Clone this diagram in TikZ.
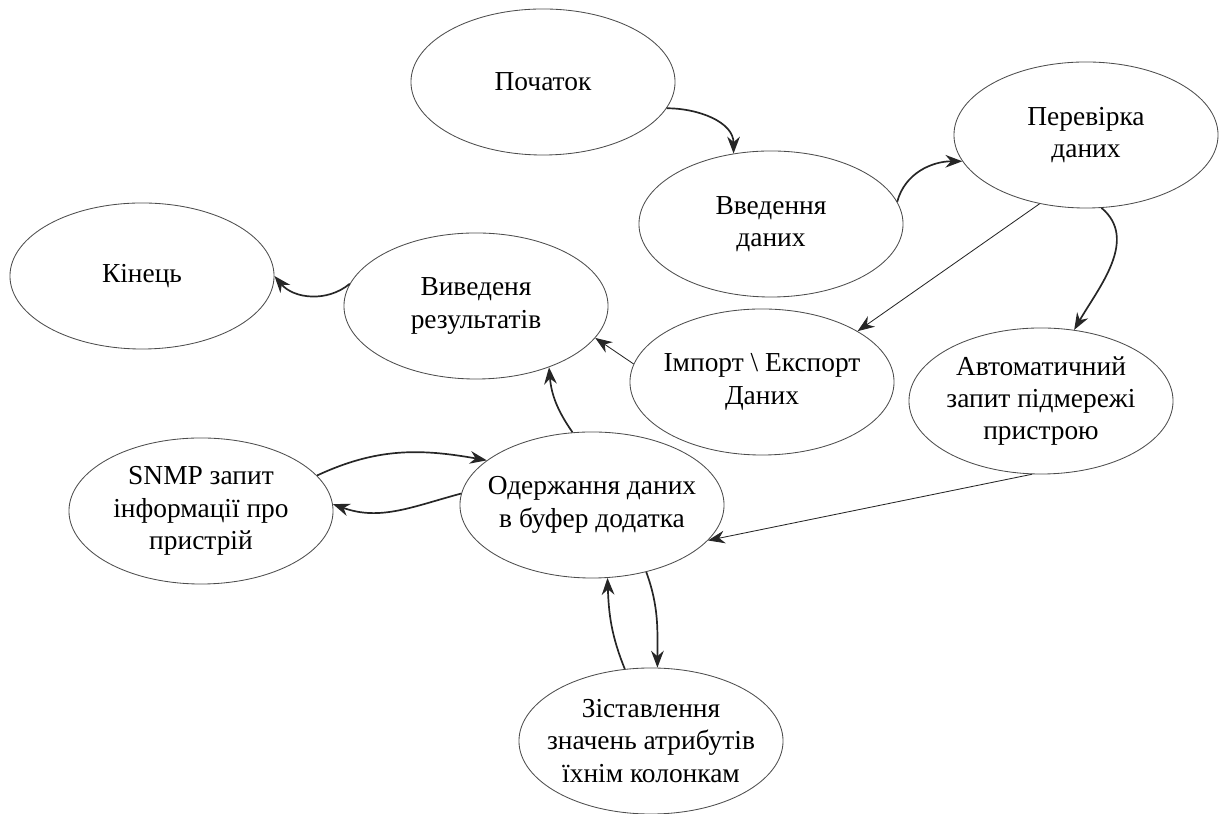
\documentclass[tikz,border=0pt]{standalone}
\usepackage{fontspec}
\setmainfont{Liberation Serif}
\usetikzlibrary{shapes.geometric,arrows.meta}

\tikzstyle{flownode} = [ellipse, draw = black!70, line width = 0.6pt, minimum width = 6.6cm, minimum height = 3.65cm, inner xsep = -0.35cm, inner ysep = 0pt, align = center, font = \fontsize{19.5}{23}\selectfont]
\tikzstyle{flowedge} = [-{Stealth[length = 12pt, width = 9pt]}, line width = 1.2pt, black!85]
\tikzstyle{thinedge} = [-{Stealth[length = 12pt, width = 9pt]}, line width = 0.6pt, black!85]

\begin{document}
\begin{tikzpicture}[x = 0.025cm, y = 0.025cm]
			\useasboundingbox (0,0) rectangle (1224,814);
			\node[flownode] (start) at (543,732) {Початок};
			\node[flownode] (input) at (771,590) {Введення\\даних};
			\node[flownode] (check) at (1086,679) {Перевірка\\даних};
			\node[flownode] (finish) at (142,538) {Кінець};
			\node[flownode] (output) at (476,508) {Виведеня\\результатів};
			\node[flownode] (impexp) at (762,432) {Імпорт \textbackslash{} Експорт\\Даних};
			\node[flownode] (autoreq) at (1041,413) {Автоматичний\\запит підмережі\\пристрою};
			\node[flownode] (snmp) at (201,303) {SNMP запит\\інформації про\\пристрій};
			\node[flownode] (buffer) at (592,309) {Одержання даних\\в буфер додатка};
			\node[flownode] (match) at (651,73) {Зіставлення\\значень атрибутів\\їхнім колонкам};
			\path[flowedge]
			(start.348) edge[out = 0, in = 90] (input.118)
			(input.10) edge[out = 75, in = 180] (check.192)
			(check.282) edge[out = -40, in = 60] (autoreq.65)
			(buffer.105) edge[out = 125, in = -85] (output.320)
			(output.170) edge[out = -140, in = -50] (finish.0)
			(snmp.17) edge[out = 25, in = 170] (buffer.157)
			(buffer.175) edge[out = 195, in = -20] (snmp.3)
			(buffer.309) edge[out = -70, in = 90] (match.85)
			(match.110) edge[out = 112, in = -88] (buffer.282);
			\path[thinedge]
			(check.236) edge (impexp.28)
			(autoreq.263) edge (buffer.343)
			(impexp.172) edge (output.345);
		\end{tikzpicture}
\end{document}
